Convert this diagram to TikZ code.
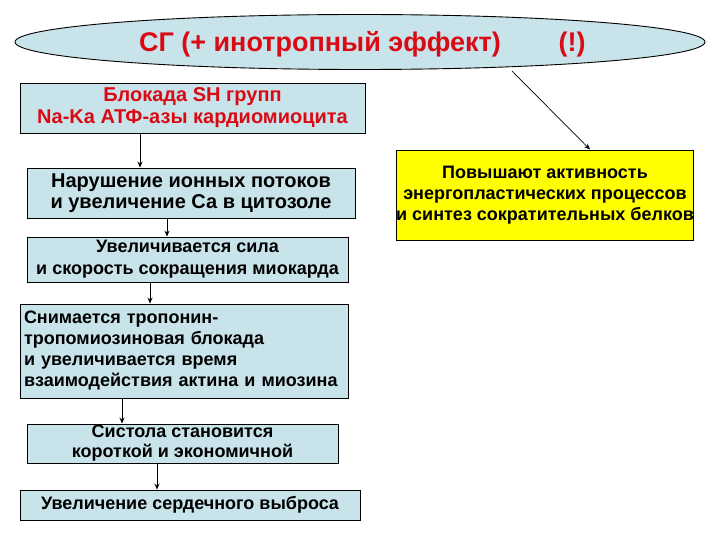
\documentclass[tikz,border=0pt]{standalone}
\usepackage{fontspec}
\setmainfont{Liberation Sans}
\usetikzlibrary{arrows.meta,calc,shapes.geometric}
\definecolor{boxblue}{RGB}{200,228,234}
\definecolor{txtred}{RGB}{218,10,20}
\definecolor{ylw}{RGB}{255,255,0}
\begin{document}
\begin{tikzpicture}[x=1pt,y=-1pt,
  bbox/.style={draw=black,line width=0.9pt,fill=boxblue,inner sep=0pt,align=center,font=\fontsize{18}{21}\selectfont\bfseries},
  arr/.style={-{Stealth[length=6pt,width=5pt]},line width=0.9pt}]
\useasboundingbox (0,0) rectangle (720,540);
\node[draw=black,line width=0.9pt,fill=boxblue,ellipse,minimum width=690pt,minimum height=55pt,inner sep=0pt] (ell) at (360,42) {};
\node[text=txtred,font=\fontsize{27}{30}\selectfont\bfseries,anchor=base] (title) at (320,52) {СГ (+ инотропный эффект)};
\node[text=txtred,font=\fontsize{27}{30}\selectfont\bfseries,anchor=base] (excl) at (572,52) {(!)};
\node[bbox,minimum width=345pt,minimum height=50pt,text=txtred,font=\fontsize{20}{22}\selectfont\bfseries] (b1) at (192.5,108) {Блокада SH групп\\Na-Ka АТФ-азы кардиомиоцита};
\node[bbox,minimum width=328pt,minimum height=50pt,font=\fontsize{20}{21}\selectfont\bfseries] (b2) at (191,193) {Нарушение ионных потоков\\и увеличение Са в цитозоле};
\node[bbox,minimum width=321pt,minimum height=45pt,font=\fontsize{18}{22}\selectfont\bfseries] (b3) at (187.5,259.5) {Увеличивается сила\\и скорость сокращения миокарда};
\node[bbox,minimum width=328pt,minimum height=94pt,text width=320pt,align=left] (b4) at (184,351) {Снимается тропонин-\\тропомиозиновая блокада\\и увеличивается время\\взаимодействия актина и миозина};
\node[bbox,minimum width=311pt,minimum height=39pt,font=\fontsize{18}{20}\selectfont\bfseries] (b5) at (182.5,443.5) {Систола становится\\короткой и экономичной};
\node[bbox,minimum width=340pt,minimum height=30pt] (b6) at (190,505) {Увеличение сердечного выброса};
\node[bbox,fill=ylw,minimum width=296pt,minimum height=90pt,font=\fontsize{18}{21}\selectfont\bfseries] (y) at (545,195) {Повышают активность\\энергопластических процессов\\и синтез сократительных белков};
\coordinate (s) at (512,71);
\draw[arr] (b1.south -| 140,0) -- (b2.north -| 140,0);
\draw[arr] (b2.south -| 167,0) -- (b3.north -| 167,0);
\draw[arr] (b3.south -| 150,0) -- (b4.north -| 150,0);
\draw[arr] (b4.south -| 122,0) -- (b5.north -| 122,0);
\draw[arr] (b5.south -| 157,0) -- (b6.north -| 157,0);
\draw[arr,line width=0.7pt] (s) -- (y.north -| 590,0);
\end{tikzpicture}
\end{document}
